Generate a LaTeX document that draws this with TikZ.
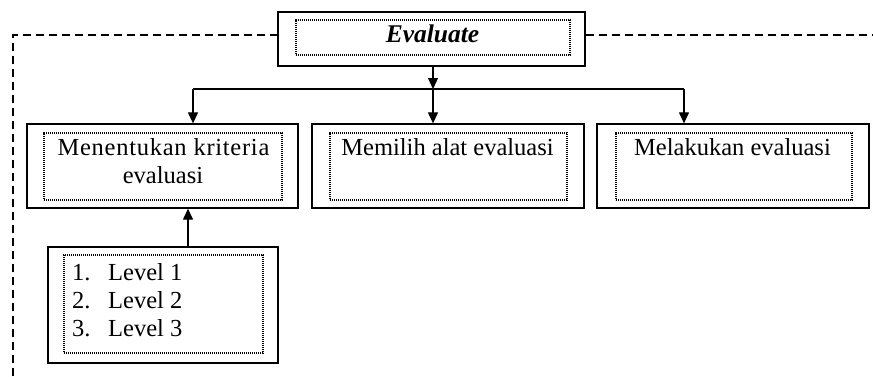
\documentclass[tikz,border=0pt]{standalone}
\usepackage{fontspec}
\setmainfont{Liberation Serif}
\usetikzlibrary{arrows.meta}
\begin{document}
\begin{tikzpicture}[x=1pt,y=-1pt,
  outerbox/.style={draw=black,line width=1.3pt,inner sep=0pt,minimum width=#1},
  innerbox/.style={draw=black,line width=1.1pt,dash pattern=on 1.1pt off 0.9pt,inner sep=0pt,minimum width=#1},
  txt/.style={inner sep=0pt,font=\fontsize{24.5}{28}\selectfont},
  arr/.style={line width=1.2pt,-{Triangle[length=11pt,width=10pt]}},
  conn/.style={line width=1.2pt},
  dashline/.style={line width=1.1pt,dash pattern=on 8pt off 5pt}]
\useasboundingbox (0,0) rectangle (873,376);
% Evaluate
\node[outerbox=307pt,minimum height=54pt] (ev) at (431.5,39) {};
\node[innerbox=274pt,minimum height=35pt] (evi) at (433,37.5) {};
\node[txt,anchor=base,font=\fontsize{25.5}{28}\selectfont\bfseries\itshape] (evt) at (432.5,42.5) {Evaluate};
% three boxes
\node[outerbox=271pt,minimum height=84pt] (b1) at (162.5,166) {};
\node[innerbox=238pt,minimum height=67pt] (b1i) at (163,166.5) {};
\node[outerbox=272pt,minimum height=84pt] (b2) at (448,166) {};
\node[innerbox=237pt,minimum height=67pt] (b2i) at (448.5,166.5) {};
\node[outerbox=272pt,minimum height=84pt] (b3) at (733,166) {};
\node[innerbox=236pt,minimum height=67pt] (b3i) at (734,166.5) {};
\node[txt,anchor=base] (b1t1) at (163.5,155) {\addfontfeature{LetterSpace=3}Menentukan kriteria};
\node[txt,anchor=base] (b1t2) at (163,183) {evaluasi};
\node[txt,anchor=base] (b2t) at (447.5,155) {Memilih alat evaluasi};
\node[txt,anchor=base] (b3t) at (732.5,155) {Melakukan evaluasi};
% level box
\node[outerbox=230pt,minimum height=116pt] (lv) at (163,305) {};
\node[innerbox=199pt,minimum height=98pt] (lvi) at (163.5,304) {};
\node[txt,anchor=base west] (l1) at (72,280) {\makebox[36pt][l]{1.}Level 1};
\node[txt,anchor=base west] (l2) at (72,308) {\makebox[36pt][l]{2.}Level 2};
\node[txt,anchor=base west] (l3) at (72,336) {\makebox[36pt][l]{3.}Level 3};
% connectors
\coordinate (bl) at (193,89);
\coordinate (bc) at (433,89);
\coordinate (br) at (684,89);
\draw[arr] (ev.south -| bc) -- (bc);
\draw[conn] (bl) -- (br);
\draw[arr] (bl) -- (bl |- b1.north);
\draw[arr] (bc) -- (bc |- b2.north);
\draw[arr] (br) -- (br |- b3.north);
\coordinate (lt) at (188,247);
\draw[arr] (lt |- lv.north) -- (lt |- b1.south);
% dashed frame
\coordinate (dl) at (13,376);
\coordinate (dr) at (873,35);
\draw[dashline] (dl) |- ([yshift=4pt]ev.west);
\draw[dashline] ([yshift=4pt]ev.east) -- (dr);
\end{tikzpicture}
\end{document}
